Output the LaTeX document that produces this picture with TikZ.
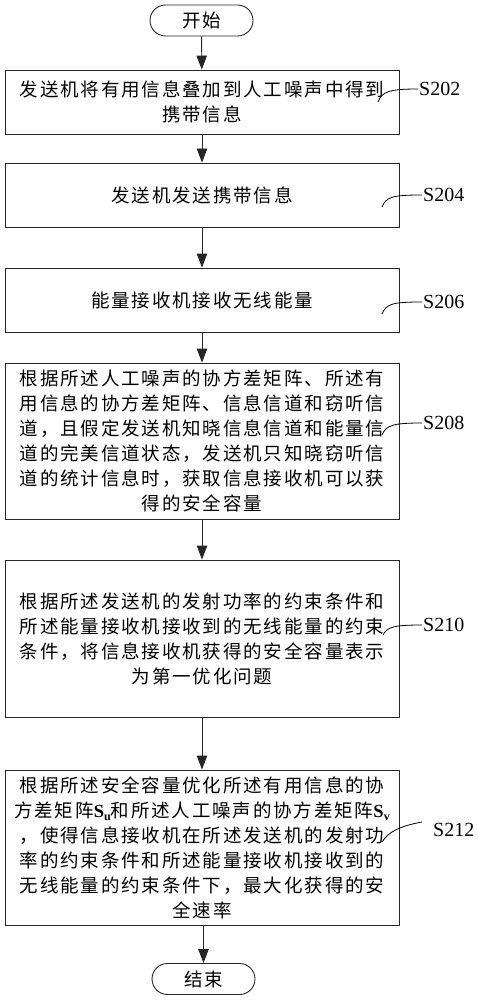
\documentclass[tikz,border=0pt]{standalone}
\usepackage{fontspec}
\newfontfamily\cjk[LetterSpace=10]{Noto Sans CJK SC}
\newfontfamily\serifLS{Liberation Serif}
\usetikzlibrary{arrows.meta,shapes.misc}
\newcommand{\Smat}[1]{{\serifLS\bfseries S\raisebox{-0.35ex}{\fontsize{12}{12}\selectfont #1}}}
\tikzset{
  x=1pt,y=-1pt,
  stepbox/.style={draw=black!85,line width=0.9pt,minimum width=394pt,inner sep=0pt,align=center,
     font=\cjk\fontsize{18.5}{25}\selectfont},
  term/.style={draw=black!85,line width=0.9pt,rounded rectangle,minimum width=103pt,minimum height=31pt,inner sep=0pt,
     font=\cjk\fontsize{18.5}{25}\selectfont},
  flow/.style={draw=black!85,line width=0.9pt,-{Triangle[length=14pt,width=10.5pt]}},
  lbl/.style={anchor=west,inner sep=1pt,font=\serifLS\fontsize{20}{22}\selectfont},
  lead/.style={draw=black,line width=0.8pt}
}
\begin{document}
\begin{tikzpicture}
\useasboundingbox (0,0) rectangle (478,1000);
\node[term] (start) at (201.5,20.5) {开始};
\node[stepbox,minimum height=64pt] (s202) at (202,102) {发送机将有用信息叠加到人工噪声中得到\\携带信息};
\node[stepbox,minimum height=64pt] (s204) at (202,195) {发送机发送携带信息};
\node[stepbox,minimum height=64pt] (s206) at (202,300) {能量接收机接收无线能量};
\node[stepbox,minimum height=156pt] (s208) at (202,441) {根据所述人工噪声的协方差矩阵、所述有\\用信息的协方差矩阵、信息信道和窃听信\\道，且假定发送机知晓信息信道和能量信\\道的完美信道状态，发送机只知晓窃听信\\道的统计信息时，获取信息接收机可以获\\得的安全容量};
\node[stepbox,minimum height=157pt] (s210) at (202,638.5) {根据所述发送机的发射功率的约束条件和\\所述能量接收机接收到的无线能量的约束\\条件，将信息接收机获得的安全容量表示\\为第一优化问题};
\node[stepbox,minimum height=155pt] (s212) at (202,847.5) {根据所述安全容量优化所述有用信息的协\\方差矩阵\Smat{u}和所述人工噪声的协方差矩阵\Smat{v}\\，使得信息接收机在所述发送机的发射功\\率的约束条件和所述能量接收机接收到的\\无线能量的约束条件下，最大化获得的安\\全速率};
\node[term] (end) at (203.5,979) {结束};

\draw[flow] (start) -- (s202);
\draw[flow] (s202) -- (s204);
\draw[flow] (s204) -- (s206);
\draw[flow] (s206) -- (s208);
\draw[flow] (s208) -- (s210);
\draw[flow] (s210) -- (s212);
\draw[flow] (s212.south -| end.north) -- (end);

\node[lbl] (l202) at (418,89) {S202};
\node[lbl] (l204) at (422,195) {S204};
\node[lbl] (l206) at (422,302) {S206};
\node[lbl] (l208) at (422,423) {S208};
\node[lbl] (l210) at (422,625) {S210};
\node[lbl] (l212) at (432,830) {S212};

\coordinate (c202) at (378,102);
\coordinate (c204) at (382,207);
\coordinate (c206) at (382,314);
\coordinate (c208) at (382,435);
\coordinate (c210) at (383,635);
\coordinate (c212) at (382,842);
\coordinate (e212) at (422,822);

\draw[lead] (c202) .. controls (382,92) and (388,89) .. (l202.west);
\draw[lead] (c204) .. controls (386,197) and (392,195) .. (l204.west);
\draw[lead] (c206) .. controls (386,304) and (392,302) .. (l206.west);
\draw[lead] (c208) .. controls (386,425) and (394,423) .. (l208.west);
\draw[lead] (c210) .. controls (387,627) and (394,625) .. (l210.west);
\draw[lead] (c212) .. controls (388,832) and (400,826) .. (e212);
\end{tikzpicture}
\end{document}
